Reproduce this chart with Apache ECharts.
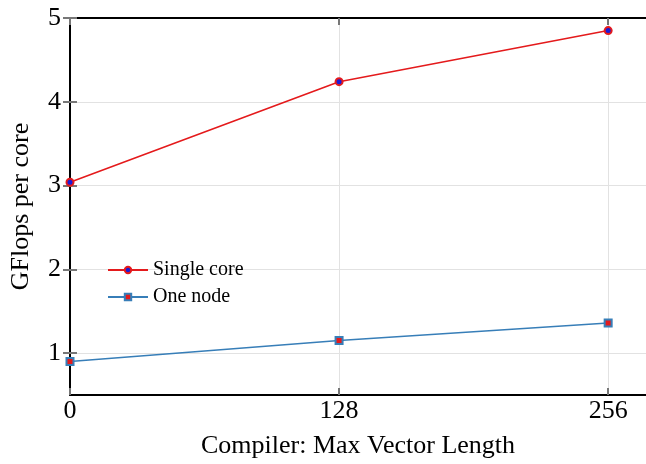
<!DOCTYPE html>
<html><head><meta charset="utf-8">
<script src="https://cdn.jsdelivr.net/npm/echarts@6/dist/echarts.min.js"></script>
<style>html,body{margin:0;padding:0;background:#fff}#c{width:646px;height:464px}</style>
</head><body><div id="c"></div>
<script>
const xValues = [0, 128, 256];
const xTicks = [0, 128, 256];
const yTicks = [1, 2, 3, 4, 5];
const singleCore = [3.04, 4.24, 4.85];
const oneNode = [0.90, 1.15, 1.36];
const seriesNames = ['Single core', 'One node'];

const FONT = '"Liberation Serif", "DejaVu Serif", serif';
const chart = echarts.init(document.getElementById('c'), null, {renderer: 'canvas'});
const pairs = a => xValues.map((x, i) => [x, a[i]]);

chart.setOption({
  animation: false,
  backgroundColor: '#fff',
  textStyle: {fontFamily: FONT},
  grid: {left: 70, right: 0, top: 18, bottom: 69, show: false, containLabel: false, outerBoundsMode: 'none'},
  legend: {
    left: 102, top: 255, orient: 'vertical', itemWidth: 40, itemHeight: 8, itemGap: 7,
    textStyle: {fontFamily: FONT, fontSize: 20, color: '#000'},
    data: seriesNames
  },
  xAxis: [{
    type: 'value', min: 0, max: 274, position: 'bottom',
    name: 'Compiler: Max Vector Length', nameLocation: 'middle', nameGap: 38,
    nameTextStyle: {fontFamily: FONT, fontSize: 26, color: '#000'},
    axisLine: {show: true, onZero: false, lineStyle: {color: '#000', width: 2}},
    axisTick: {show: true, inside: true, length: 7, customValues: xTicks, lineStyle: {color: '#777', width: 2}},
    axisLabel: {customValues: xTicks, fontFamily: FONT, fontSize: 26, color: '#000', margin: 3},
    splitLine: {show: true, lineStyle: {color: '#e2e2e2', width: 1}}
  }, {
    type: 'value', min: 0, max: 274, position: 'top',
    axisLine: {show: true, onZero: false, lineStyle: {color: '#000', width: 2}},
    axisTick: {show: true, inside: true, length: 7, customValues: xTicks, lineStyle: {color: '#777', width: 2}},
    axisLabel: {show: false},
    splitLine: {show: false}
  }],
  yAxis: [{
    type: 'value', min: 0.5, max: 5, position: 'left',
    name: 'GFlops per core', nameLocation: 'middle', nameGap: 36,
    nameTextStyle: {fontFamily: FONT, fontSize: 26, color: '#000'},
    axisLine: {show: true, onZero: false, lineStyle: {color: '#000', width: 2}},
    axisTick: {show: true, inside: true, length: 7, customValues: yTicks, lineStyle: {color: '#777', width: 2}},
    axisLabel: {customValues: yTicks, fontFamily: FONT, fontSize: 26, color: '#000', margin: 9},
    splitLine: {show: true, lineStyle: {color: '#e2e2e2', width: 1}}
  }, {
    type: 'value', min: 0.5, max: 5, position: 'right',
    axisLine: {show: false},
    axisTick: {show: true, inside: true, length: 7, customValues: yTicks, lineStyle: {color: '#777', width: 2}},
    axisLabel: {show: false},
    splitLine: {show: false}
  }],
  series: [{
    name: seriesNames[0], type: 'line', data: pairs(singleCore),
    symbol: 'circle', symbolSize: 7,
    lineStyle: {color: '#e41a1c', width: 1.6},
    itemStyle: {color: '#1a1ad8', borderColor: '#e41a1c', borderWidth: 2}
  }, {
    name: seriesNames[1], type: 'line', data: pairs(oneNode),
    symbol: 'rect', symbolSize: 7,
    lineStyle: {color: '#377eb8', width: 1.6},
    itemStyle: {color: '#e41a1c', borderColor: '#377eb8', borderWidth: 2}
  }]
});
</script></body></html>
